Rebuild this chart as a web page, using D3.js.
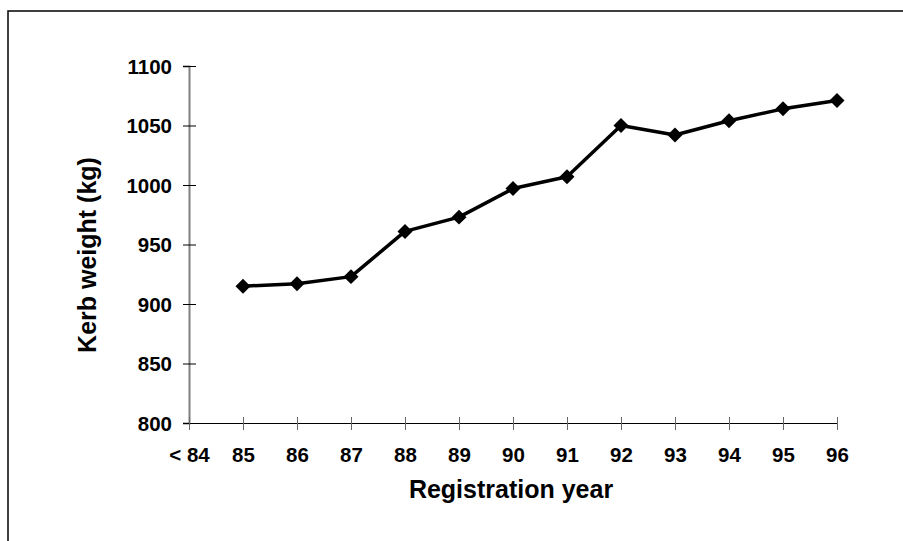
<!DOCTYPE html>
<html><head><meta charset="utf-8">
<script src="https://cdn.jsdelivr.net/npm/d3@7"></script>
<style>body{margin:0;background:#fff}svg{display:block}text{font-family:"Liberation Sans",Arial,sans-serif;font-weight:bold;fill:#000}</style>
</head><body>
<script>
const categories = ["< 84","85","86","87","88","89","90","91","92","93","94","95","96"];
const years = ["85","86","87","88","89","90","91","92","93","94","95","96"];
const weights = [915,917,923,961,973,997,1007,1050,1042,1054,1064,1071];
const yTicks = [800,850,900,950,1000,1050,1100];

const W=903,H=541;
const svg=d3.select("body").append("svg").attr("width",W).attr("height",H);
svg.append("rect").attr("x",8).attr("y",11).attr("width",W).attr("height",H).attr("fill","none").attr("stroke","#000").attr("stroke-width",1.5);

const x=d3.scalePoint().domain(categories).range([189,837]);
const y=d3.scaleLinear().domain([800,1100]).range([423,66]);

// y axis
const ya=svg.append("g").attr("transform","translate(189,0)")
  .call(d3.axisLeft(y).tickValues(yTicks).tickSize(6).tickPadding(11).tickFormat(d3.format("d")));
ya.attr("font-size",null).attr("font-family",null);
ya.select(".domain").attr("stroke","#808080").attr("stroke-width",2);
ya.selectAll(".tick line").attr("stroke","#000").attr("x1",7).attr("x2",-6);
ya.selectAll(".tick text").attr("x",-17).attr("dy","0.36em").style("font-size","20.5px");

// x axis
const xa=svg.append("g").attr("transform","translate(0,423)")
  .call(d3.axisBottom(x).tickSize(7).tickPadding(14));
xa.attr("font-size",null).attr("font-family",null);
xa.select(".domain").attr("stroke","#000").attr("d","M183,0.5H837");
xa.selectAll(".tick line").attr("stroke","#666").attr("y1",-6).attr("y2",7);
xa.selectAll(".tick text").attr("y",39).attr("dy",null).style("font-size","20.5px");

const data=years.map((c,i)=>({c,v:weights[i]}));
svg.append("path").datum(data)
  .attr("fill","none").attr("stroke","#000").attr("stroke-width",3.5).attr("stroke-linejoin","round")
  .attr("d",d3.line().x(d=>x(d.c)).y(d=>y(d.v)));
svg.selectAll(".m").data(data).enter().append("path")
  .attr("transform",d=>`translate(${x(d.c)},${y(d.v)}) rotate(45)`)
  .attr("d",d3.symbol(d3.symbolSquare,112)).attr("fill","#000");

svg.append("text").attr("transform","translate(96,255) rotate(-90)").attr("text-anchor","middle")
  .style("font-size","25px").text("Kerb weight (kg)");
svg.append("text").attr("x",511).attr("y",498).attr("text-anchor","middle")
  .style("font-size","25px").text("Registration year");
</script>
</body></html>
